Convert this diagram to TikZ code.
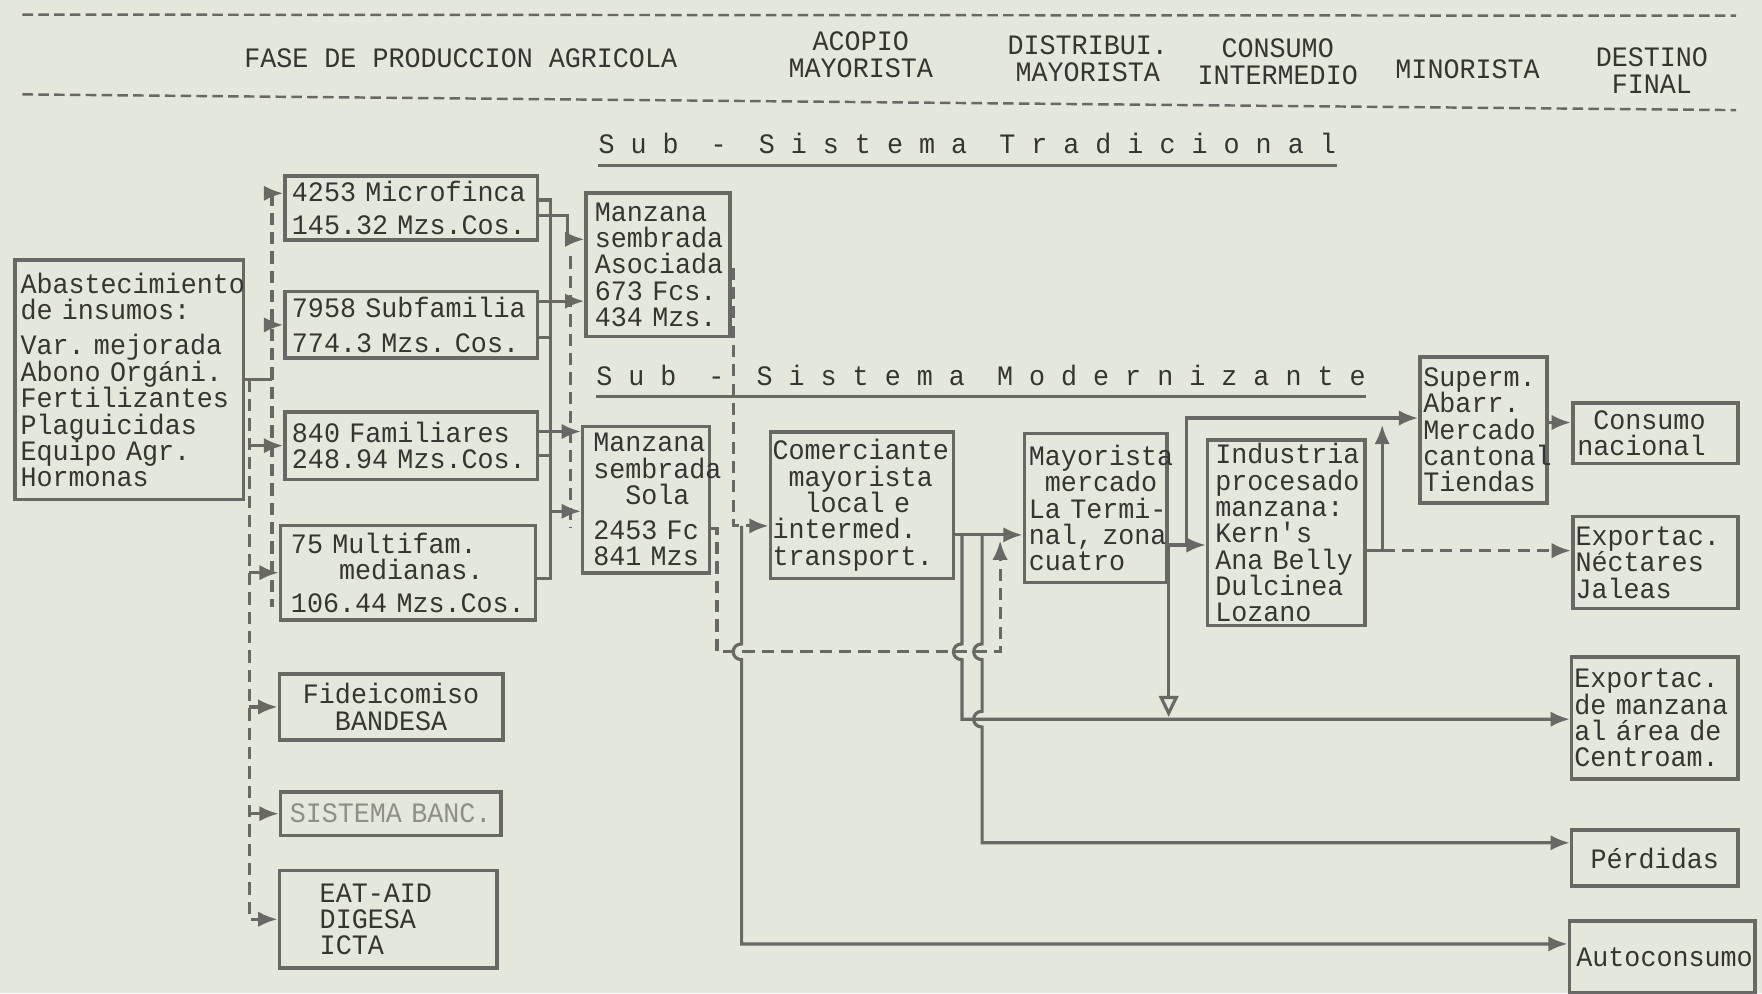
\documentclass[tikz,border=0pt]{standalone}
\usepackage{fontspec}
\setmainfont{Liberation Mono}[WordSpace={1,0,0}, FakeStretch=0.95]
\usetikzlibrary{arrows.meta}
\definecolor{papel}{HTML}{E4E7DC}
\definecolor{tinta}{HTML}{353532}
\definecolor{linea}{HTML}{686864}
\definecolor{palido}{HTML}{8E8E8A}
\newcommand{\letra}{\fontsize{8}{7.5}\selectfont\lineskiplimit-5pt\relax}
\newcommand{\salto}[2]{-- (#1,#2-7) .. controls (#1-10,#2-7) and (#1-10,#2+7) .. (#1,#2+7)}

\begin{document}
\begin{tikzpicture}[x=0.3197pt, y=-0.3197pt, font=\letra,
    caja/.style={draw=linea, line width=1pt, anchor=north west, inner ysep=0pt, inner xsep=1.5pt, align=left, text=tinta},
    cab/.style={inner sep=0pt, align=center, text=tinta, font=\fontsize{8}{7.7}\selectfont},
    titulo/.style={inner xsep=0pt, inner ysep=2.9pt, anchor=base west, text=tinta},
    trazo/.style={draw=linea, line width=0.9pt},
    flecha/.style={trazo, -{Latex[length=5.5pt, width=4.4pt]}},
    rayas/.style={dash pattern=on 3.5pt off 2pt}]
  \fill[papel] (0,0) rectangle (1568,884);
  \useasboundingbox (0,0) rectangle (1568,884);

  % cabecera
  \draw[trazo, line width=0.7pt, dash pattern=on 3pt off 1.5pt] (20,13) -- (1545,14);
  \draw[trazo, line width=0.7pt, dash pattern=on 3pt off 1.5pt] (20,84) -- (1545,98);
  \node[cab] (fase) at (410,52) {FASE DE PRODUCCION AGRICOLA};
  \node[cab] (acopio) at (766,49) {ACOPIO\\MAYORISTA};
  \node[cab] (distri) at (968,52) {DISTRIBUI.\\MAYORISTA};
  \node[cab] (consint) at (1137,55) {CONSUMO\\INTERMEDIO};
  \node[cab] (mino) at (1306,62) {MINORISTA};
  \node[cab] (destino) at (1470,63) {DESTINO\\FINAL};

  \node[titulo] (tradi) at (532,137) {S~u~b~~-~~S~i~s~t~e~m~a~~T~r~a~d~i~c~i~o~n~a~l};
  \draw[trazo] (tradi.south west) -- (tradi.south east);
  \node[titulo] (moder) at (530,343) {S~u~b~~-~~S~i~s~t~e~m~a~~M~o~d~e~r~n~i~z~a~n~t~e};
  \draw[trazo] (moder.south west) -- (moder.south east);

  % cajas
  \node[caja, text width=61.9pt, minimum height=68.1pt] (abast) at (12,230)
    {Abastecimiento\\de~insumos:\\[2.6pt]Var.~mejorada\\Abono~Orgáni.\\Fertilizantes\\Plaguicidas\\Equipo~Agr.\\Hormonas};
  \node[caja, inner xsep=2pt, text width=67.9pt, minimum height=18.2pt] (micro) at (252,155)
    {4253~Microfinca\\[1.9pt]145.32~Mzs.Cos.};
  \node[caja, inner xsep=2pt, text width=67.9pt, minimum height=18.9pt] (subf) at (252,258)
    {7958~Subfamilia\\[2.5pt]774.3~Mzs.~Cos.};
  \node[caja, inner xsep=2pt, text width=67.9pt, minimum height=19.2pt] (fami) at (252,365)
    {840~Familiares\\248.94~Mzs.Cos.};
  \node[caja, inner xsep=3pt, text width=66.6pt, minimum height=26.9pt] (multi) at (248,466)
    {75~Multifam.\\\phantom{xxx}medianas.\\[1.9pt]106.44~Mzs.Cos.};
  \node[caja, align=center, text width=60.6pt, minimum height=18.9pt] (fide) at (247,598)
    {Fideicomiso\\BANDESA};
  \node[caja, align=center, text=palido, text width=59.7pt, minimum height=12.5pt] (banc) at (248,703)
    {SISTEMA~BANC.};
  \node[caja, inner xsep=11.5pt, text width=39pt, minimum height=27.8pt] (eat) at (247,773)
    {EAT-AID\\DIGESA\\ICTA};
  \node[caja, inner xsep=2.5pt, text width=35.9pt, minimum height=40.9pt] (asoc) at (520,170)
    {Manzana\\sembrada\\Asociada\\673~Fcs.\\434~Mzs.};
  \node[caja, inner xsep=3pt, text width=30.1pt, minimum height=41.6pt] (sola) at (517,378)
    {Manzana\\sembrada\\\phantom{xx}Sola\\[2.3pt]2453~Fc\\841~Mzs};
  \node[caja, inner xsep=0.6pt, text width=50.9pt, minimum height=41.6pt] (comer) at (684,383)
    {Comerciante\\\phantom{x}mayorista\\\phantom{xx}local~e\\intermed.\\transport.};
  \node[caja, inner xsep=1.3pt, text width=38pt, minimum height=42.5pt] (mayo) at (910,384)
    {Mayorista\\\phantom{x}mercado\\\mbox{La~Termi-}\\\mbox{nal,~zona}\\cuatro};
  \node[caja, inner xsep=2.2pt, text width=40.4pt, minimum height=52.8pt] (indu) at (1073,390)
    {Industria\\procesado\\manzana:\\Kern\textquotesingle s\\\mbox{Ana~Belly}\\Dulcinea\\Lozano};
  \node[caja, inner xsep=1pt, text width=34.1pt, minimum height=41.6pt] (super) at (1262,316)
    {Superm.\\Abarr.\\Mercado\\cantonal\\Tiendas};
  \node[caja, inner xsep=1.3pt, text width=44.4pt, minimum height=17.3pt] (consu) at (1398,357)
    {\phantom{x}Consumo\\nacional};
  \node[caja, inner xsep=0.8pt, text width=45.4pt, minimum height=26.2pt] (nect) at (1398,458)
    {Exportac.\\Néctares\\Jaleas};
  \node[caja, inner xsep=0.8pt, text width=45.7pt, minimum height=34.8pt] (expo) at (1397,583)
    {Exportac.\\\mbox{de~manzana}\\\mbox{al~área~de}\\Centroam.};
  \node[caja, align=center, inner xsep=1pt, text width=45.3pt, minimum height=16pt] (perd) at (1397,737)
    {Pérdidas};
  \node[caja, inner xsep=2pt, text width=48.8pt, minimum height=20.5pt] (auto) at (1395,818)
    {Autoconsumo};

  % insumos
  \coordinate (a1) at (242,338);
  \coordinate (bAt) at (242,172);
  \coordinate (bAb) at (242,540);
  \coordinate (bBt) at (222,338);
  \draw[trazo] (abast.east) -- (abast.east -| a1);
  \draw[trazo, rayas] (bAt) -- (bAb);
  \draw[flecha] (bAt) -- (micro.west |- bAt);
  \draw[flecha] (bAt |- subf.west) -- (subf.west);
  \draw[flecha] (bBt |- fami.west) -- (fami.west);
  \draw[flecha, rayas] (bBt |- multi.west) -- (multi.west);
  \draw[flecha] (bBt |- fide.west) -- (fide.west);
  \draw[flecha, rayas] (bBt |- banc.west) -- (banc.west);
  \draw[flecha, rayas] (bBt) |- (eat.west);

  % produccion a manzana
  \coordinate (p1) at (490,178);
  \coordinate (p2) at (490,515);
  \draw[trazo] (micro.east |- p1) -- (p1) -- (p2) -- (multi.east |- p2);
  \coordinate (t1) at (505,192);
  \coordinate (t2) at (505,213);
  \draw[flecha] (micro.east |- t1) -- (t1) -- (t2) -- (asoc.west |- t2);
  \coordinate (t3) at (490,268);
  \draw[flecha] (subf.east |- t3) -- (asoc.west |- t3);
  \coordinate (t4) at (490,300);
  \draw[trazo] (subf.east |- t4) -- (t4);
  \coordinate (t5) at (490,384);
  \draw[flecha] (fami.east |- t5) -- (sola.west |- t5);
  \coordinate (t6) at (490,405);
  \draw[trazo] (fami.east |- t6) -- (t6);
  \coordinate (t7) at (490,455);
  \draw[flecha] (t7) -- (sola.west |- t7);
  \coordinate (r1) at (508,228);
  \coordinate (r2) at (508,470);
  \draw[trazo, rayas] (r1) -- (r2);

  % tradicional
  \coordinate (c1) at (653,240);
  \coordinate (c2) at (653,468);
  \draw[flecha, rayas] (asoc.east |- c1) -- (c1) -- (c2) -- (comer.west |- c2);
  \coordinate (c3) at (660,468);
  \coordinate (c4) at (660,840);
  \draw[flecha] (c3) \salto{660}{580} -- (c4) -- (auto.west |- c4);
  \coordinate (d1) at (638,470);
  \coordinate (d2) at (638,580);
  \coordinate (d3) at (890,580);
  \coordinate (d4) at (890,481);
  \draw[flecha, rayas] (sola.east |- d1) -- (d1) -- (d2) -- (d3) -- (d4);

  % modernizante
  \coordinate (e1) at (856,476);
  \coordinate (e2) at (856,640);
  \coordinate (e3) at (874,476);
  \coordinate (e4) at (874,750);
  \draw[flecha] (comer.east |- e1) -- (mayo.west |- e1);
  \draw[flecha] (e1) \salto{856}{580} -- (e2) -- (expo.west |- e2);
  \draw[flecha] (e3) \salto{874}{580} \salto{874}{640} -- (e4) -- (perd.west |- e4);
  \coordinate (f1) at (1040,485);
  \coordinate (f2) at (1056,485);
  \coordinate (f3) at (1056,372);
  \coordinate (f4) at (1040,638);
  \draw[flecha] (mayo.east |- f1) -- (indu.west |- f1);
  \draw[flecha] (f2) -- (f3) -- (super.west |- f3);
  \draw[trazo, -{Triangle[open, length=6pt, width=5.5pt]}] (f1) -- (f4);
  \coordinate (g1) at (1230,490);
  \coordinate (g2) at (1230,378);
  \draw[flecha] (indu.east |- g1) -- (g1) -- (g2);
  \draw[flecha, rayas] (g1) -- (nect.west |- g1);
  \coordinate (h1) at (1375,376);
  \draw[flecha] (super.east |- h1) -- (consu.west |- h1);
\end{tikzpicture}
\end{document}
